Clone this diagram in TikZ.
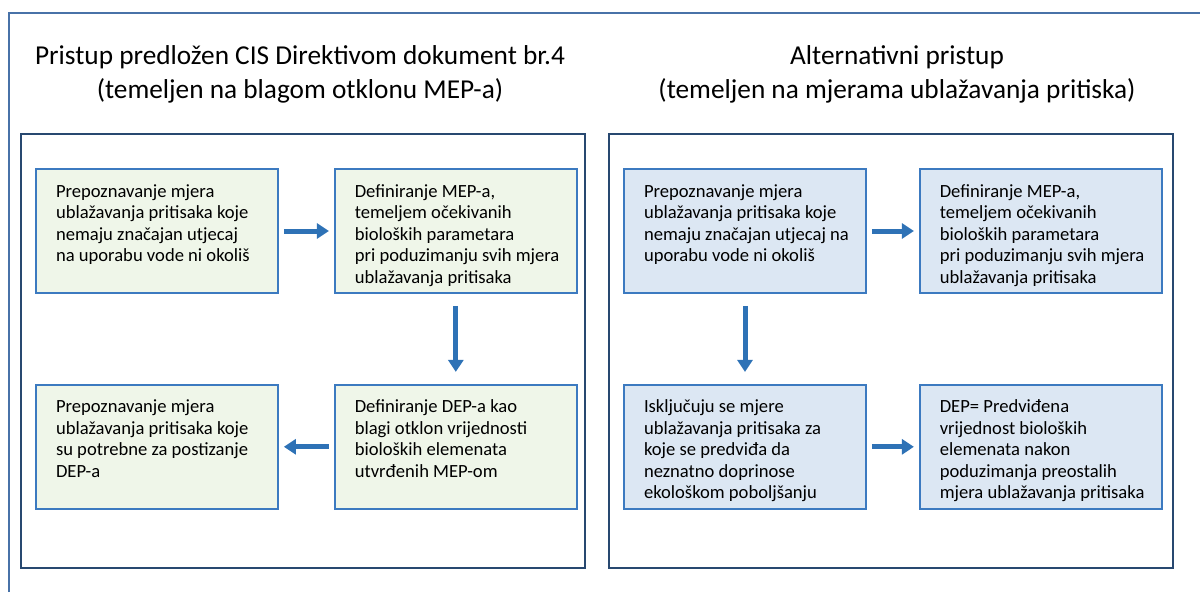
\documentclass[tikz,border=0pt]{standalone}
\usepackage{fontspec}
\setmainfont{Carlito}
\usetikzlibrary{positioning, arrows.meta}

\definecolor{frameblue}{RGB}{72,114,168}
\definecolor{panelblue}{RGB}{40,72,112}
\definecolor{boxblue}{RGB}{60,122,192}
\definecolor{greenfill}{RGB}{239,246,233}
\definecolor{bluefill}{RGB}{220,231,243}
\definecolor{arrowblue}{RGB}{46,114,182}

\newcommand{\boxtext}[1]{\parbox[c][98pt][t]{202pt}{\hfuzz=40pt\begin{tabular}{@{}l@{}}#1\end{tabular}}}

\begin{document}
\begin{tikzpicture}[
        x=1pt, y=-1pt,
        node distance=90pt and 55pt,
        title/.style={align=center, font=\fontsize{27.3}{34}\selectfont},
        panel/.style={draw=panelblue, line width=2pt},
        stepgreen/.style={draw=boxblue, line width=1.8pt, fill=greenfill, inner sep=0pt, minimum width=242pt, minimum height=124pt, font=\fontsize{18.6}{21.5}\selectfont},
        stepblue/.style={stepgreen, fill=bluefill},
        harrow/.style={-{Triangle[width=15pt, length=12pt]}, line width=5pt, draw=arrowblue, shorten <=5pt, shorten >=5pt},
        varrow/.style={harrow, shorten <=12pt, shorten >=12pt}
    ]
    \useasboundingbox (0,0) rectangle (1200,592);

    % outer frame
    \draw[draw=frameblue, line width=2pt] (9,592) |- (1200,13);

    % panels
    \draw[panel] (21,134) rectangle (585,568);
    \draw[panel] (609,134) rectangle (1173,568);

    \node[title] (titleL) at (300,74) {Pristup predložen CIS Direktivom dokument br.4\\(temeljen na blagom otklonu MEP-a)};
    \node[title] (titleR) at (897,74) {Alternativni pristup\\(temeljen na mjerama ublažavanja pritiska)};

    % left approach
    \node[stepgreen] (L1) at (157,231) {\boxtext{Prepoznavanje mjera\\ublažavanja pritisaka koje\\nemaju značajan utjecaj\\na uporabu vode ni okoliš}};
    \node[stepgreen, right=of L1] (L2) {\boxtext{Definiranje MEP-a,\\temeljem očekivanih\\bioloških parametara\\pri poduzimanju svih mjera\\ublažavanja pritisaka}};
    \node[stepgreen, below=of L2] (L3) {\boxtext{Definiranje DEP-a kao\\blagi otklon vrijednosti\\bioloških elemenata\\utvrđenih MEP-om}};
    \node[stepgreen, left=of L3] (L4) {\boxtext{Prepoznavanje mjera\\ublažavanja pritisaka koje\\su potrebne za postizanje\\DEP-a}};

    \draw[harrow] (L1) -- (L2);
    \draw[varrow] (L2) -- (L3);
    \draw[harrow] (L3) -- (L4);

    % alternative approach
    \node[stepblue] (R1) at (745,231) {\boxtext{Prepoznavanje mjera\\ublažavanja pritisaka koje\\nemaju značajan utjecaj na\\uporabu vode ni okoliš}};
    \node[stepblue, right=52pt of R1] (R2) {\boxtext{Definiranje MEP-a,\\temeljem očekivanih\\bioloških parametara\\pri poduzimanju svih mjera\\ublažavanja pritisaka}};
    \node[stepblue, below=of R1] (R3) {\boxtext{Isključuju se mjere\\ublažavanja pritisaka za\\koje se predviđa da\\neznatno doprinose\\ekološkom poboljšanju}};
    \node[stepblue, right=52pt of R3] (R4) {\boxtext{DEP= Predviđena\\vrijednost bioloških\\elemenata nakon\\poduzimanja preostalih\\mjera ublažavanja pritisaka}};

    \draw[harrow] (R1) -- (R2);
    \draw[varrow] (R1) -- (R3);
    \draw[harrow] (R3) -- (R4);

\end{tikzpicture}
\end{document}
